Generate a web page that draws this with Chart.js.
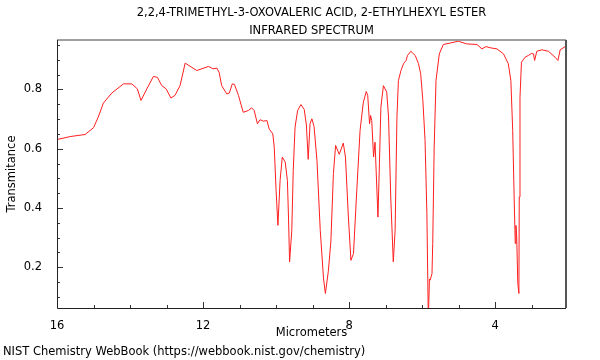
<!DOCTYPE html>
<html>
<head>
<meta charset="utf-8">
<script src="https://cdn.jsdelivr.net/npm/chart.js@4"></script>
<style>
html,body{margin:0;padding:0;background:#fff;}
#wrap{width:600px;height:360px;}
</style>
</head>
<body>
<div id="wrap"><canvas id="c" width="600" height="360"></canvas></div>
<script>
const titleLines = ["2,2,4-TRIMETHYL-3-OXOVALERIC ACID, 2-ETHYLHEXYL ESTER", "INFRARED SPECTRUM"];
const footerText = "NIST Chemistry WebBook (https://webbook.nist.gov/chemistry)";
const xAxisTitle = "Micrometers";
const yAxisTitle = "Transmitance";
const xTickLabels = [16, 12, 8, 4];
const yTickLabels = [0.2, 0.4, 0.6, 0.8];
const wavelength = [16.0,15.64,15.23,15.0,14.87,14.73,14.50,14.18,13.95,13.80,13.70,13.54,13.36,13.25,13.13,13.01,12.88,12.77,12.63,12.49,12.17,11.85,11.73,11.62,11.56,11.49,11.35,11.28,11.20,11.14,11.03,10.90,10.76,10.67,10.60,10.51,10.44,10.35,10.25,10.19,10.09,10.05,10.00,9.95,9.89,9.83,9.75,9.69,9.66,9.63,9.57,9.53,9.48,9.41,9.32,9.23,9.17,9.12,9.07,9.02,8.96,8.88,8.79,8.70,8.65,8.57,8.50,8.43,8.37,8.27,8.16,8.10,8.02,7.95,7.88,7.79,7.70,7.61,7.53,7.49,7.44,7.41,7.38,7.33,7.29,7.21,7.17,7.13,7.06,6.97,6.92,6.86,6.79,6.74,6.69,6.65,6.58,6.51,6.44,6.40,6.31,6.19,6.10,6.04,5.98,5.92,5.87,5.83,5.80,5.78,5.73,5.71,5.67,5.62,5.53,5.42,5.23,5.01,4.78,4.50,4.36,4.25,4.14,3.95,3.77,3.64,3.57,3.52,3.48,3.45,3.43,3.41,3.38,3.35,3.34,3.32,3.28,3.18,3.09,3.00,2.95,2.92,2.86,2.72,2.54,2.36,2.28,2.22,2.08];
const transmittance = [0.631,0.641,0.648,0.671,0.707,0.754,0.788,0.819,0.819,0.802,0.763,0.802,0.844,0.841,0.813,0.802,0.771,0.780,0.813,0.889,0.864,0.878,0.870,0.872,0.858,0.813,0.785,0.788,0.819,0.817,0.780,0.723,0.729,0.738,0.729,0.684,0.698,0.693,0.695,0.667,0.650,0.605,0.459,0.341,0.493,0.572,0.555,0.493,0.369,0.218,0.324,0.527,0.673,0.729,0.749,0.733,0.680,0.564,0.684,0.701,0.675,0.560,0.324,0.160,0.111,0.185,0.285,0.516,0.611,0.581,0.619,0.572,0.369,0.223,0.246,0.459,0.662,0.757,0.793,0.780,0.684,0.712,0.695,0.572,0.622,0.369,0.549,0.740,0.813,0.791,0.707,0.437,0.218,0.324,0.707,0.830,0.864,0.887,0.898,0.915,0.929,0.915,0.887,0.853,0.763,0.628,0.381,0.020,0.160,0.156,0.178,0.280,0.605,0.830,0.920,0.952,0.957,0.963,0.954,0.952,0.937,0.945,0.941,0.937,0.920,0.887,0.830,0.662,0.437,0.280,0.341,0.302,0.145,0.111,0.437,0.774,0.892,0.909,0.915,0.922,0.920,0.898,0.929,0.934,0.929,0.909,0.898,0.934,0.945];

const points = wavelength.map((w, i) => ({x: w, y: transmittance[i]}));
const FONT = "'DejaVu Sans', sans-serif";
const FS = 11.5;

const framePlugin = {
  id: 'frame',
  afterDraw(chart) {
    const {ctx, chartArea: a, scales} = chart;
    const xs = scales.x, ys = scales.y;
    ctx.save();
    ctx.strokeStyle = '#333';
    ctx.lineWidth = 1;
    for (let v = 16; v >= 3; v -= 1) {
      const px = Math.round(xs.getPixelForValue(v)) + 0.5;
      const len = (v % 4 === 0) ? 6 : 3;
      ctx.beginPath(); ctx.moveTo(px, a.bottom); ctx.lineTo(px, a.bottom - len); ctx.stroke();
    }
    for (let k = 2; k <= 19; k++) {
      const v = k * 0.05;
      const py = Math.round(ys.getPixelForValue(v)) + 0.5;
      if (py < a.top || py > a.bottom) continue;
      const len = (k % 4 === 0) ? 6 : 3;
      ctx.beginPath(); ctx.moveTo(a.left, py); ctx.lineTo(a.left + len, py); ctx.stroke();
    }
    ctx.lineWidth = 2;
    ctx.strokeStyle = '#a0a0a0';
    ctx.beginPath(); ctx.moveTo(a.left, a.top); ctx.lineTo(a.right, a.top); ctx.stroke();
    ctx.strokeStyle = '#555';
    ctx.beginPath(); ctx.moveTo(a.right, a.top); ctx.lineTo(a.right, a.bottom); ctx.stroke();
    ctx.lineWidth = 1;
    ctx.strokeStyle = '#222';
    ctx.beginPath(); ctx.moveTo(a.left + 0.5, a.top); ctx.lineTo(a.left + 0.5, a.bottom + 0.5); ctx.lineTo(a.right, a.bottom + 0.5); ctx.stroke();
    ctx.restore();
  }
};

new Chart(document.getElementById('c'), {
  type: 'line',
  data: {
    datasets: [{
      data: points,
      borderColor: 'rgb(255,30,30)',
      borderWidth: 1,
      pointRadius: 0,
      tension: 0,
      fill: false
    }]
  },
  options: {
    responsive: false,
    animation: false,
    events: [],
    layout: {padding: {left: 3, right: 34, top: 0, bottom: 0}},
    plugins: {
      legend: {display: false},
      tooltip: {enabled: false},
      title: {
        display: true,
        text: titleLines,
        fullSize: false,
        color: '#000',
        font: {family: FONT, size: FS, weight: 'normal', lineHeight: 1.48},
        padding: {top: 5, bottom: 1}
      },
      subtitle: {
        display: true,
        text: footerText,
        position: 'bottom',
        align: 'start',
        color: '#000',
        font: {family: FONT, size: FS, weight: 'normal', lineHeight: 1.2},
        padding: {top: 1, bottom: 1}
      }
    },
    scales: {
      x: {
        type: 'linear',
        reverse: true,
        min: 2.06,
        max: 16,
        grid: {display: false},
        border: {display: false},
        afterBuildTicks(scale) { scale.ticks = xTickLabels.map(v => ({value: v})); },
        afterFit(scale) { scale.height = 36.2; },
        ticks: {
          color: '#000',
          font: {family: FONT, size: FS},
          padding: 3,
          maxRotation: 0,
          callback: v => String(v)
        },
        title: {
          display: true,
          text: xAxisTitle,
          color: '#000',
          font: {family: FONT, size: FS},
          padding: {top: 0, bottom: 4}
        }
      },
      y: {
        type: 'linear',
        min: 0.062,
        max: 0.967,
        grid: {display: false},
        border: {display: false},
        afterBuildTicks(scale) { scale.ticks = yTickLabels.map(v => ({value: v})); },
        afterFit(scale) { scale.width = 54; },
        ticks: {
          color: '#000',
          font: {family: FONT, size: FS},
          padding: 7,
          callback: v => v.toFixed(1)
        },
        title: {
          display: true,
          text: yAxisTitle,
          color: '#000',
          font: {family: FONT, size: FS},
          padding: {top: 2, bottom: 4}
        }
      }
    }
  },
  plugins: [framePlugin]
});
</script>
</body>
</html>
